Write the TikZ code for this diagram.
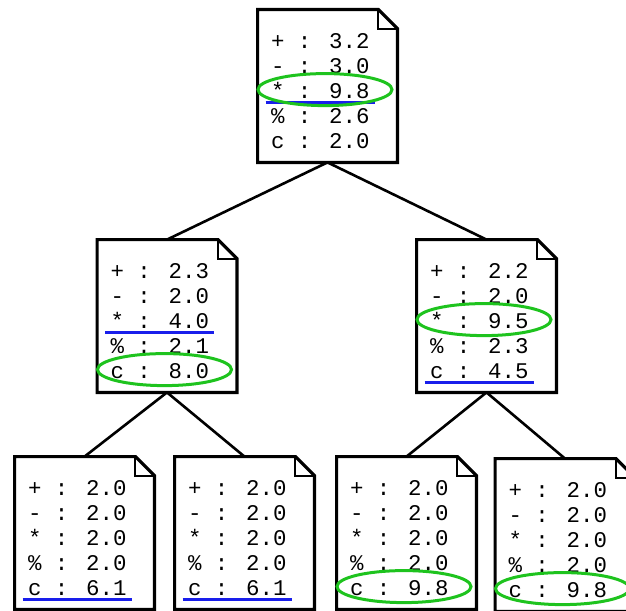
\documentclass[tikz,border=0pt]{standalone}
\usepackage{fontspec}
\usepackage{tikz}
\usetikzlibrary{positioning,calc}
\newfontfamily\sheetfont{Liberation Mono}
\definecolor{cPick}{RGB}{25,30,235}
\definecolor{cBest}{RGB}{30,195,30}
\tikzset{
	sheet/.style={minimum width=69.5pt, minimum height=76pt, inner sep=0pt},
	sheetline/.style={line width=1.6pt, line join=miter, draw=black},
	foldline/.style={line width=1pt, draw=black},
	srow/.style={anchor=base west, inner xsep=2.5pt, inner ysep=0pt,
		font=\sheetfont\fontsize{11.2}{12}\selectfont},
	tedge/.style={line width=1.3pt, draw=black},
	pickline/.style={line width=1.5pt, draw=cPick},
	bestring/.style={line width=1.5pt, draw=cBest},
}
\newcommand{\opsheet}[3]{%
	\node[sheet] (#1) at (#2) {};
	\draw[sheetline] (#1.north west) -- ([xshift=-9.5pt]#1.north east)
		-- ([yshift=-9.5pt]#1.north east) -- (#1.south east)
		-- (#1.south west) -- cycle;
	\draw[foldline] ([xshift=-9.5pt]#1.north east) |- ([yshift=-9.5pt]#1.north east);
	\foreach \op/\val [count=\k] in {#3}{
		\node[srow] (#1-\k) at ($(#1.north west)+(8,{38.5+25*(\k-1)})$) {\op{} : \val};
	}
}
\newcommand{\pickrow}[1]{%
	\draw[pickline] ([yshift=-2.25pt]#1.base west) -- ([yshift=-2.25pt]#1.base east);
}
\newcommand{\bestrow}[2]{%
	\draw[bestring] ($(#1.center |- #1-#2.base)+(-2.5,-8.5)$) ellipse [x radius=33.5pt, y radius=8pt];
}

\begin{document}
\begin{tikzpicture}[x=0.5pt, y=-0.5pt]
	\useasboundingbox (0,0) rectangle (626,610);
	\clip (0,0) rectangle (626,610);
	\opsheet{root}{327.5,86}{+/3.2, -/3.0, */9.8, \%/2.6, c/2.0}
	\opsheet{left}{167,316}{+/2.3, -/2.0, */4.0, \%/2.1, c/8.0}
	\opsheet{right}{486.5,316}{+/2.2, -/2.0, */9.5, \%/2.3, c/4.5}
	\opsheet{ll}{84.5,533}{+/2.0, -/2.0, */2.0, \%/2.0, c/6.1}
	\opsheet{lr}{244.5,533}{+/2.0, -/2.0, */2.0, \%/2.0, c/6.1}
	\opsheet{rl}{406.5,533}{+/2.0, -/2.0, */2.0, \%/2.0, c/9.8}
	\opsheet{rr}{565,535}{+/2.0, -/2.0, */2.0, \%/2.0, c/9.8}
	\draw[tedge] (root.south) -- (left.north);
	\draw[tedge] (root.south) -- (right.north);
	\draw[tedge] (left.south) -- (ll.north);
	\draw[tedge] (left.south) -- (lr.north);
	\draw[tedge] (right.south) -- (rl.north);
	\draw[tedge] (right.south) -- (rr.north);
	\pickrow{root-3}
	\bestrow{root}{3}
	\pickrow{left-3}
	\bestrow{left}{5}
	\bestrow{right}{3}
	\pickrow{right-5}
	\pickrow{ll-5}
	\pickrow{lr-5}
	\bestrow{rl}{5}
	\bestrow{rr}{5}
\end{tikzpicture}
\end{document}
